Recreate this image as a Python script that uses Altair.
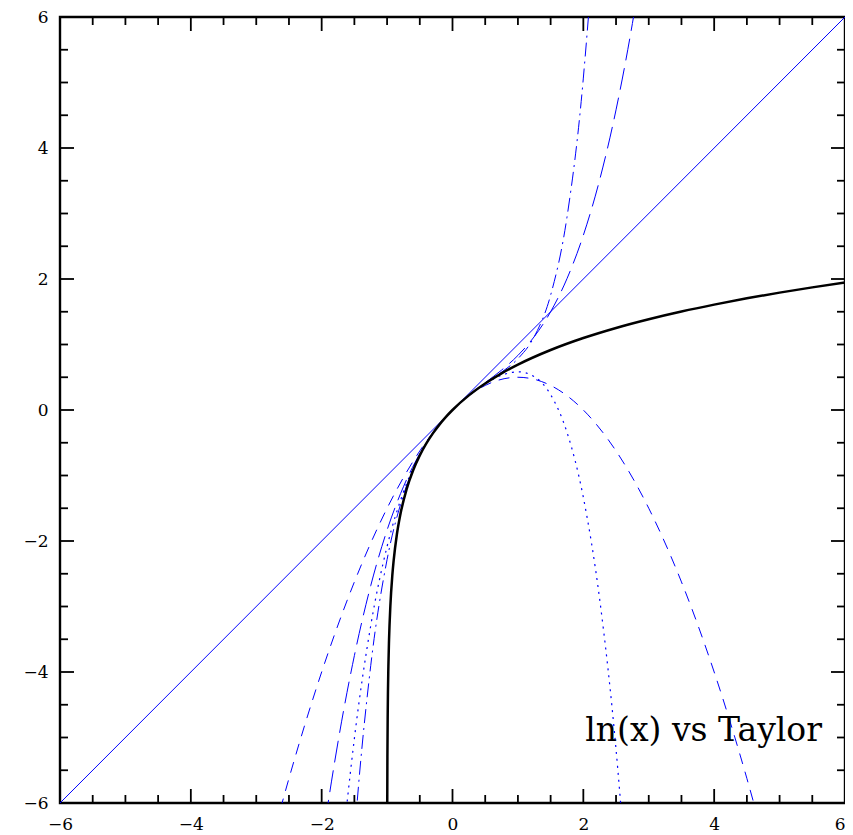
import altair as alt
import pandas as pd

# ln(1+x)
ln_x = [-0.999, -0.9975, -0.995, -0.99, -0.98, -0.97, -0.95, -0.92, -0.9, -0.85, -0.8, -0.7, -0.6,
        -0.5, -0.4, -0.3, -0.2, -0.1, 0.0, 0.25, 0.5, 0.75, 1.0, 1.5, 2.0, 2.5, 3.0, 3.5, 4.0,
        4.5, 5.0, 5.5, 6.0]
ln_y = [-6.908, -5.991, -5.298, -4.605, -3.912, -3.507, -2.996, -2.526, -2.303, -1.897, -1.609,
        -1.204, -0.916, -0.693, -0.511, -0.357, -0.223, -0.105, 0.0, 0.223, 0.405, 0.560, 0.693,
        0.916, 1.099, 1.253, 1.386, 1.504, 1.609, 1.705, 1.792, 1.872, 1.946]

# Taylor order 1
t1_x = [-6.0, 6.0]
t1_y = [-6.0, 6.0]

# Taylor order 2
t2_x = [-3.0, -2.5, -2.0, -1.5, -1.0, -0.5, 0.0, 0.5, 1.0, 1.5, 2.0, 2.5, 3.0, 3.5, 4.0, 4.5, 5.0]
t2_y = [-7.5, -5.625, -4.0, -2.625, -1.5, -0.625, 0.0, 0.375, 0.5, 0.375, 0.0, -0.625, -1.5,
        -2.625, -4.0, -5.625, -7.5]

# Taylor order 3
t3_x = [-2.5, -2.0, -1.75, -1.5, -1.25, -1.0, -0.75, -0.5, -0.25, 0.0, 0.25, 0.5, 0.75, 1.0,
        1.25, 1.5, 1.75, 2.0, 2.25, 2.5, 2.75, 3.0]
t3_y = [-10.833, -6.667, -5.068, -3.75, -2.682, -1.833, -1.172, -0.667, -0.287, 0.0, 0.224,
        0.417, 0.609, 0.833, 1.120, 1.5, 2.005, 2.667, 3.516, 4.583, 5.901, 7.5]

# Taylor order 4
t4_x = [-2.0, -1.75, -1.5, -1.25, -1.0, -0.75, -0.5, -0.25, 0.0, 0.25, 0.5, 0.75, 1.0, 1.25,
        1.5, 1.75, 2.0, 2.25, 2.5, 2.75]
t4_y = [-10.667, -7.412, -5.016, -3.293, -2.083, -1.251, -0.682, -0.288, 0.0, 0.223, 0.401,
        0.530, 0.583, 0.510, 0.234, -0.340, -1.333, -2.892, -5.182, -8.397]

# Taylor order 5
t5_x = [-2.0, -1.75, -1.5, -1.25, -1.0, -0.75, -0.5, -0.25, 0.0, 0.25, 0.5, 0.75, 1.0, 1.25,
        1.5, 1.75, 2.0, 2.25, 2.5]
t5_y = [-17.067, -10.695, -6.534, -3.903, -2.283, -1.299, -0.689, -0.288, 0.0, 0.223, 0.407,
        0.578, 0.783, 1.120, 1.753, 2.943, 5.067, 8.641, 14.349]

major_ticks = [-4, -2, 0, 2, 4]
minor_ticks = [-5.5, -5, -4.5, -3.5, -3, -2.5, -1.5, -1, -0.5, 0.5, 1, 1.5, 2.5, 3, 3.5, 4.5, 5, 5.5]
label_values = [-6, -4, -2, 0, 2, 4, 6]

title_text = ["ln(x) vs Taylor"]
title_x = [2.03]
title_y = [-5.05]

W = 785
H = 786
FONT = "DejaVu Serif"
BLUE = "#0000ff"

xscale = alt.Scale(domain=[-6, 6], nice=False, zero=False)
yscale = alt.Scale(domain=[-6, 6], nice=False, zero=False)
xaxis = alt.Axis(values=label_values, ticks=False, domain=False, grid=False, title=None,
                 labelFont=FONT, labelFontSize=17, labelPadding=13, labelColor="black",
                 labelFlush=False,
                 labelAlign={"condition": {"test": "datum.value >= 6", "value": "right"},
                             "value": "center"})
yaxis = alt.Axis(values=label_values, ticks=False, domain=False, grid=False, title=None,
                 labelFont=FONT, labelFontSize=17, labelPadding=12, labelColor="black",
                 labelFlush=False)


def curve(xs, ys, color, width, dash=None):
    df = pd.DataFrame({"x": xs, "y": ys})
    kw = dict(color=color, strokeWidth=width, clip=True, interpolate="monotone")
    if dash is not None:
        kw["strokeDash"] = dash
    return alt.Chart(df).mark_line(**kw).encode(
        x=alt.X("x:Q", scale=xscale, axis=xaxis),
        y=alt.Y("y:Q", scale=yscale, axis=yaxis),
        order="x:Q",
    )


def ticks(values, length):
    df = pd.DataFrame({"v": values})
    base = alt.Chart(df)
    m = dict(color="black", strokeWidth=1.8)
    bottom = base.mark_rule(**m).encode(
        x=alt.X("v:Q", scale=xscale, axis=xaxis), y=alt.value(H), y2=alt.value(H - length))
    top = base.mark_rule(**m).encode(
        x=alt.X("v:Q", scale=xscale, axis=xaxis), y=alt.value(0), y2=alt.value(length))
    left = base.mark_rule(**m).encode(
        y=alt.Y("v:Q", scale=yscale, axis=yaxis), x=alt.value(0), x2=alt.value(length))
    right = base.mark_rule(**m).encode(
        y=alt.Y("v:Q", scale=yscale, axis=yaxis), x=alt.value(W), x2=alt.value(W - length))
    return [bottom, top, left, right]


layers = [
    curve(t1_x, t1_y, BLUE, 1.0),
    curve(t2_x, t2_y, BLUE, 1.0, [11, 8]),
    curve(t3_x, t3_y, BLUE, 1.0, [22, 8]),
    curve(t4_x, t4_y, BLUE, 1.2, [2, 5]),
    curve(t5_x, t5_y, BLUE, 1.0, [14, 5, 2, 5]),
    curve(ln_x, ln_y, "black", 2.5),
]
layers += ticks(major_ticks, 14)
layers += ticks(minor_ticks, 8)

text_df = pd.DataFrame({"t": title_text, "x": title_x, "y": title_y})
layers.append(
    alt.Chart(text_df).mark_text(font=FONT, fontSize=33, align="left", baseline="alphabetic",
                                 color="black").encode(
        x=alt.X("x:Q", scale=xscale, axis=xaxis),
        y=alt.Y("y:Q", scale=yscale, axis=yaxis),
        text="t:N",
    )
)

chart = alt.layer(*layers).properties(
    width=W, height=H,
    autosize=alt.AutoSizeParams(type="none"),
    padding={"left": 52, "top": 9, "right": 0, "bottom": 33},
).configure(
    background="white",
    view=alt.ViewConfig(stroke="black", strokeWidth=2.4),
)

chart.save("out.html", embed_options={"renderer": "svg", "actions": False})
